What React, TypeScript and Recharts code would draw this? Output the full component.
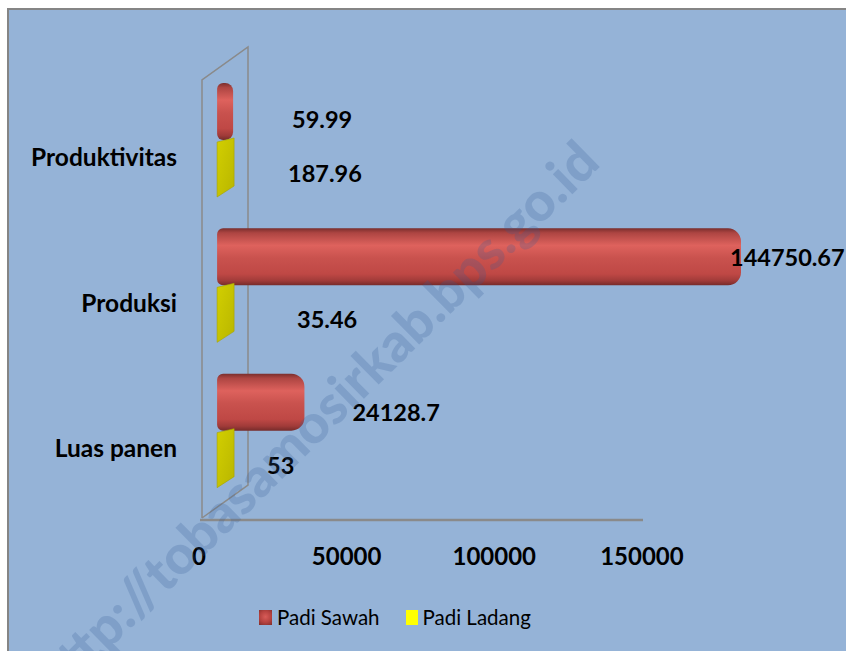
import React from "react";
import { BarChart, Bar, XAxis, YAxis, LabelList } from "recharts";

// Padi Sawah vs Padi Ladang, horizontal "3D" bar look faked with gradients,
// a skewed stub shape and a drawn side wall.

const CATEGORIES = ["Produktivitas", "Produksi", "Luas panen"];
const PADI_SAWAH = [59.99, 144750.67, 24128.7];
const PADI_LADANG = [187.96, 35.46, 53];
const X_TICKS = [0, 50000, 100000, 150000];
const SERIES_NAMES = ["Padi Sawah", "Padi Ladang"];

const data = CATEGORIES.map((name, i) => ({
  name,
  sawah: PADI_SAWAH[i],
  ladang: PADI_LADANG[i],
}));

// the source put its value labels at odd spots off the bar ends: [dx, dy]
const SAWAH_NUDGE = [
  [59, 7],
  [-11, 0],
  [48, 10],
];
const LADANG_NUDGE = [
  [54, 4],
  [63, 5],
  [33, 6],
];

const FONT = "Lato, 'Open Sans', sans-serif";
const BG = "#95B3D7";
const EDGE = "#8a8a8a";

const makeLabel = (nudge: number[][]) => (props: any) => {
  const vb = props.viewBox ?? props;
  const { x, y, width, height } = vb;
  const [dx, dy] = nudge[props.index] ?? [0, 0];
  return (
    <text
      x={x + width + dx}
      y={y + height / 2 + dy}
      dominantBaseline="central"
      fontFamily={FONT}
      fontWeight={700}
      fontSize={23.5}
      fill="#000"
    >
      {props.value}
    </text>
  );
};

const CategoryTick = ({ x, y, payload }: any) => (
  <text
    x={x}
    y={y + 17}
    textAnchor="end"
    dominantBaseline="central"
    fontFamily={FONT}
    fontWeight={700}
    fontSize={24.5}
    fill="#000"
  >
    {payload.value}
  </text>
);

// small skewed stub, like the flat yellow faces in the source
const LadangShape = ({ x, y, width, height }: any) => (
  <path
    d={`M${x},${y + 2} L${x + width},${y - 2} L${x + width},${y + height - 11} L${x},${y + height} Z`}
    fill="url(#ladangFill)"
    stroke="#a6a300"
    strokeWidth={0.6}
  />
);

export default function App() {
  return (
    <div
      style={{
        position: "absolute",
        left: 0,
        top: 0,
        width: 846,
        height: 651,
        overflow: "hidden",
        background: "#fff",
      }}
    >
      <div
        style={{
          position: "absolute",
          left: 7,
          top: 8,
          width: 900,
          height: 700,
          background: BG,
          borderTop: "2px solid #858585",
          borderLeft: "2px solid #858585",
        }}
      />

      {/* side wall + floor edge */}
      <svg
        width={846}
        height={651}
        style={{ position: "absolute", left: 0, top: 0 }}
      >
        <g stroke={EDGE} strokeWidth={1.5} fill="none">
          <path d="M202,518 L202,80 L248,47 L248,485 L202,518" />
          <path d="M200,520 L643,520" strokeWidth={2.5} />
        </g>
      </svg>

      <div style={{ position: "absolute", left: 0, top: 0 }}>
        <BarChart
          width={846}
          height={651}
          data={data}
          layout="vertical"
          margin={{ top: 67, right: 86, bottom: 88, left: 0 }}
          barGap={0}
          barSize={57}
        >
          <defs>
            <linearGradient id="sawahFill" x1="0" y1="0" x2="0" y2="1">
              <stop offset="0%" stopColor="#7a2e2d" />
              <stop offset="8%" stopColor="#ad4542" />
              <stop offset="30%" stopColor="#de625d" />
              <stop offset="52%" stopColor="#c9524e" />
              <stop offset="80%" stopColor="#bf4845" />
              <stop offset="92%" stopColor="#a03b39" />
              <stop offset="100%" stopColor="#762b2a" />
            </linearGradient>
            <linearGradient id="ladangFill" x1="0" y1="0" x2="1" y2="1">
              <stop offset="0%" stopColor="#d2cf00" />
              <stop offset="100%" stopColor="#b9b600" />
            </linearGradient>
          </defs>
          <XAxis
            xAxisId="ticks"
            type="number"
            domain={[0, 190000]}
            ticks={X_TICKS}
            interval={0}
            allowDataOverflow
            axisLine={false}
            tickLine={false}
            tickSize={0}
            tickMargin={15}
            height={60}
            tick={{ fill: "#000", fontSize: 24, fontWeight: 700, fontFamily: FONT }}
          />
          <XAxis
            xAxisId="bars"
            type="number"
            domain={[-5000, 150000]}
            allowDataOverflow
            hide
          />
          <YAxis
            type="category"
            dataKey="name"
            width={199}
            axisLine={false}
            tickLine={false}
            tickSize={0}
            tickMargin={22}
            interval={0}
            tick={<CategoryTick />}
          />
          <Bar
            xAxisId="bars"
            dataKey="sawah"
            name={SERIES_NAMES[0]}
            fill="url(#sawahFill)"
            radius={[6, 13, 13, 6]}
            minPointSize={16}
            isAnimationActive={false}
          >
            <LabelList dataKey="sawah" content={makeLabel(SAWAH_NUDGE)} />
          </Bar>
          <Bar
            xAxisId="bars"
            dataKey="ladang"
            name={SERIES_NAMES[1]}
            fill="#cccc00"
            minPointSize={17}
            shape={<LadangShape />}
            isAnimationActive={false}
          >
            <LabelList dataKey="ladang" content={makeLabel(LADANG_NUDGE)} />
          </Bar>
        </BarChart>
      </div>

      <div
        style={{
          position: "absolute",
          left: 259,
          top: 605,
          height: 24,
          display: "flex",
          alignItems: "center",
          fontFamily: FONT,
          fontSize: 20.5,
          color: "#000",
        }}
      >
        <span
          style={{
            width: 13,
            height: 15,
            marginRight: 5,
            background: "radial-gradient(circle at 50% 45%, #d85c58 0%, #b5423f 55%, #7e2d2b 100%)",
          }}
        />
        <span>{SERIES_NAMES[0]}</span>
        <span
          style={{
            width: 12,
            height: 15,
            marginLeft: 26,
            marginRight: 5,
            background: "#ffff00",
          }}
        />
        <span>{SERIES_NAMES[1]}</span>
      </div>

      {/* diagonal site watermark */}
      <svg
        width={846}
        height={651}
        style={{ position: "absolute", left: 0, top: 0, pointerEvents: "none" }}
      >
        <text
          x={602}
          y={165}
          transform="rotate(-44.5 602 165)"
          textAnchor="end"
          fontFamily={FONT}
          fontWeight={900}
          fontSize={54}
          fill="rgba(50,90,150,0.22)"
        >
          http://tobasamosirkab.bps.go.id
        </text>
      </svg>
    </div>
  );
}
